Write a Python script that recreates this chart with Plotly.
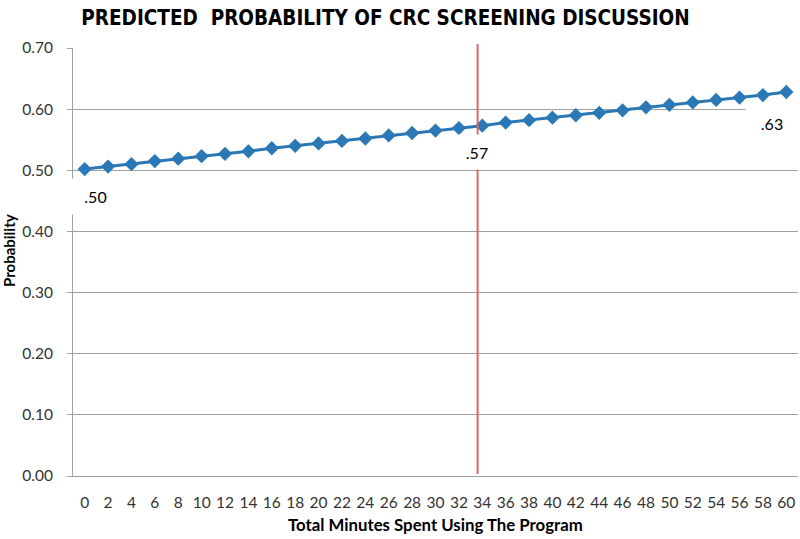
import plotly.graph_objects as go

minutes = list(range(0, 61, 2))
probability = [0.502, 0.506, 0.510, 0.515, 0.519, 0.523, 0.527, 0.531, 0.536, 0.540,
               0.544, 0.548, 0.552, 0.557, 0.561, 0.565, 0.569, 0.573, 0.578, 0.582,
               0.586, 0.590, 0.594, 0.598, 0.603, 0.607, 0.611, 0.615, 0.619, 0.623, 0.628]
label_minutes = [0, 34, 60]
label_values = [0.502, 0.573, 0.628]
label_texts = [".50", ".57", ".63"]
label_shifts = [(11, -27.5), (-5, -26), (-14, -31)]
label_boxes = [(51, 33), (40, 32), (50, 33)]
cutoff_minutes = 33.6
y_ticks = [0.0, 0.1, 0.2, 0.3, 0.4, 0.5, 0.6, 0.7]

W, H = 800, 539
L, R, T, B = 73, 2, 48, 63
plot_h = H - T - B

fig = go.Figure()
fig.add_trace(go.Scatter(
    x=minutes, y=probability, mode="lines+markers",
    line=dict(color="#2a78b5", width=3),
    marker=dict(symbol="diamond", size=11, color="#2a78b5"),
    showlegend=False, hoverinfo="x+y",
))

fig.add_shape(type="line", xref="x", yref="paper",
              x0=cutoff_minutes, x1=cutoff_minutes,
              y0=2 / plot_h, y1=1 + 4 / plot_h,
              line=dict(color="#e06666", width=2), layer="above")

for xm, yv, txt, (dx, dy), (bw, bh) in zip(label_minutes, label_values, label_texts,
                                            label_shifts, label_boxes):
    fig.add_annotation(x=xm, y=yv, xref="x", yref="y", text=txt, showarrow=False,
                       xshift=dx, yshift=dy, width=bw, height=bh,
                       bgcolor="white", font=dict(family="Lato", size=16, color="#000000"))

fig.add_annotation(text="<b>Total Minutes Spent Using The Program</b>", xref="paper", yref="paper",
                   x=(435.5 - L) / (W - L - R), y=-(524 - (H - B)) / plot_h,
                   xanchor="center", yanchor="middle", showarrow=False,
                   font=dict(family="Lato", size=16.8, color="#000000"))
fig.add_annotation(text="<b>Probability</b>", xref="paper", yref="paper",
                   x=-(L - 9) / (W - L - R), y=(H - B - 251) / plot_h,
                   xanchor="center", yanchor="middle", textangle=-90, showarrow=False,
                   font=dict(family="Lato", size=15, color="#000000"))

fig.update_layout(
    width=W, height=H,
    margin=dict(l=L, r=R, t=T, b=B, pad=0, autoexpand=False),
    paper_bgcolor="white", plot_bgcolor="white",
    title=dict(text="<b>PREDICTED  PROBABILITY OF CRC SCREENING DISCUSSION</b>",
               x=385.5 / W, xanchor="center", y=1 - 17.5 / H, yanchor="middle",
               font=dict(family="DejaVu Sans Condensed, Lato", size=20.5, color="#000000")),
    xaxis=dict(range=[-1, 61], tickvals=minutes, ticktext=[str(m) for m in minutes],
               showgrid=False, zeroline=False, showline=True, linecolor="#a0a0a0",
               ticks="", ticklabelstandoff=12,
               tickfont=dict(family="Lato", size=15.5, color="#333333")),
    yaxis=dict(range=[0, 0.7], tickvals=y_ticks, tickformat=".2f",
               showgrid=True, gridcolor="#a0a0a0", gridwidth=1, zeroline=False,
               showline=True, linecolor="#a0a0a0", ticks="outside", ticklen=5,
               tickcolor="#a0a0a0", ticklabelstandoff=11,
               tickfont=dict(family="Lato", size=15.5, color="#333333")),
)

fig.write_html("out.html", config={"displayModeBar": False},
               post_script="document.body.style.margin='0';document.body.style.overflow='hidden';")
